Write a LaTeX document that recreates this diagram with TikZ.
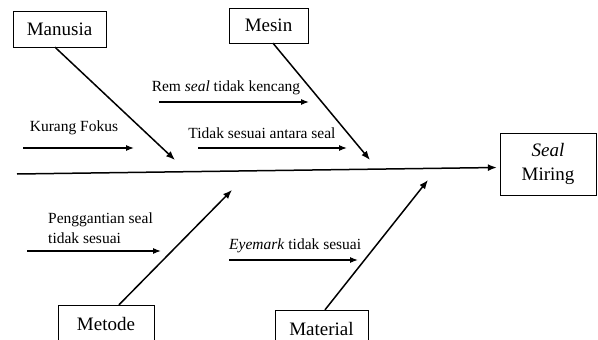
\documentclass[tikz,border=0pt]{standalone}
\usepackage{fontspec}
\setmainfont{Liberation Serif}
\usepackage{tikz}
\usetikzlibrary{arrows.meta,positioning,calc}

\begin{document}
\begin{tikzpicture}[x=1pt,y=-1pt,
  box/.style={draw,thin,font=\fontsize{19}{24}\selectfont,inner sep=0pt},
  lbl/.style={font=\fontsize{15.5}{20}\selectfont,inner sep=0pt},
  bone/.style={line width=1.5pt,-{Latex[length=9pt,width=7pt]}},
  cause/.style={line width=1.1pt,-{Latex[length=8pt,width=6pt]}}]
\useasboundingbox (0,0) rectangle (598,340);

% kotak kategori
\node(manusia)[box,minimum width=93pt,minimum height=36pt] at (59.5,29) {Manusia};
\node(mesin)[box,minimum width=79pt,minimum height=35pt] at (268.5,25.5) {Mesin};
\node(metode)[box,minimum width=96pt,minimum height=38pt] at (106,324) {Metode};
\node(material)[box,minimum width=93pt,minimum height=38pt] at (321.5,329) {Material};
\node(akibat)[box,minimum width=96pt,minimum height=62pt,align=center] at (548,164) {\textit{Seal}\\Miring};

% tulang utama
\coordinate (ekor) at (17,174);
\draw [bone] (ekor) to ([yshift=-3.5pt,xshift=-3pt]akibat.west);

% tulang cabang
\coordinate (tm1) at (175,160);
\coordinate (tm2) at (370,160);
\coordinate (tm3) at (232,190);
\coordinate (tm4) at (428,180);
\draw [bone] ([xshift=-4.5pt]manusia.south) to (tm1);
\draw [bone] ([xshift=4.5pt]mesin.south) to (tm2);
\draw [bone] ([xshift=13pt]metode.north) to (tm3);
\draw [bone] ([xshift=3.5pt]material.north) to (tm4);

% penyebab
\node(fokus)[lbl] at (74,128) {Kurang Fokus};
\coordinate (f1) at (23,148); \coordinate (f2) at (134,148);
\draw [cause] (f1) to (f2);

\node(rem)[lbl] at (226,88) {Rem \textit{seal} tidak kencang};
\coordinate (r1) at (159,102); \coordinate (r2) at (309,102);
\draw [cause] (r1) to (r2);

\node(antara)[lbl] at (262,133) {Tidak sesuai antara seal};
\coordinate (a1) at (198,148); \coordinate (a2) at (347,148);
\draw [cause] (a1) to (a2);

\node(ganti)[lbl,align=left,anchor=north west] at (48,213) {Penggantian seal\\tidak sesuai};
\coordinate (g1) at (27,251); \coordinate (g2) at (161,251);
\draw [cause] (g1) to (g2);

\node(eyemark)[lbl,anchor=west] at (229,246) {\textit{Eyemark} tidak sesuai};
\coordinate (e1) at (229,260); \coordinate (e2) at (358,260);
\draw [cause] (e1) to (e2);
\end{tikzpicture}
\end{document}
